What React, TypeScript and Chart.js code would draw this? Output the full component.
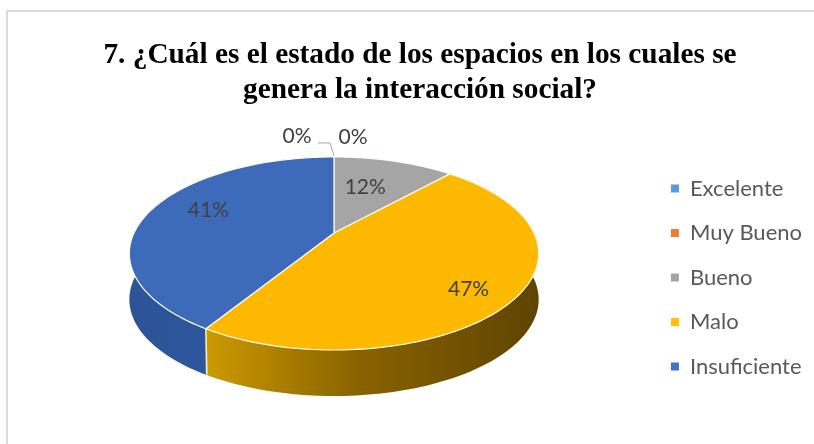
import React, { useEffect, useRef } from "react";
import { Chart, registerables } from "chart.js";

Chart.register(...registerables);

const categories = ["Excelente", "Muy Bueno", "Bueno", "Malo", "Insuficiente"];
const percentages = [0, 0, 11.7, 47.1, 41.2];
const sliceColors = ["#5B9BD5", "#ED7D31", "#A5A5A5", "#FDB900", "#3D6BB9"];
const legendColors = ["#5B9BD5", "#ED7D31", "#A5A5A5", "#FFC000", "#4472C4"];
const titleLines = [
  "7. ¿Cuál es el estado de los espacios en los cuales se",
  "genera la interacción social?",
];

// canvas-space geometry of the tilted disc (canvas sits at 8,12 in the page)
const OX = 8;
const OY = 12;
const CX = 334 - OX;
const CY = 233 - OY;
const BX = 200;
const BY = 92.2;
const K = 0.212;
const DEPTH = 46;

const project = (theta: number, r: number) => {
  const u = r * Math.sin(theta);
  const v = -r * Math.cos(theta);
  const w = 1 + K * v * -1;
  return { x: CX + (BX * u) / w, y: CY + (BY * v) / w };
};

// [radius factor, dx, dy] per slice, applied to the slice's mid angle
const labelPlacement = [
  [1, -37, -21],
  [1, 19, -20],
  [0.63, -9, 2],
  [0.76, 0, 10],
  [0.69, 2, -6],
];

const rimStops: Record<number, [number, string][]> = {
  3: [
    [0, "#CC9A00"],
    [0.45, "#8A6300"],
    [1, "#5F4400"],
  ],
  4: [
    [0, "#2C5496"],
    [1, "#2F5CA8"],
  ],
};

const discPlugin = {
  id: "disc",
  afterLayout(chart: any) {
    const lg = chart.legend;
    lg.left -= 20;
    lg.right -= 20;
    lg.top += 45.5;
    lg.bottom += 45.5;
  },
  beforeDatasetsDraw(chart: any) {
    const ctx = chart.ctx as CanvasRenderingContext2D;
    const arcs = chart.getDatasetMeta(0).data as any[];
    const th = (a: number) => a + Math.PI / 2;

    // side wall
    arcs.forEach((arc, i) => {
      const stops = rimStops[i];
      if (!stops || arc.endAngle - arc.startAngle <= 0) return;
      const steps = 120;
      const pts = [];
      for (let s = 0; s <= steps; s++) {
        pts.push(project(th(arc.startAngle + ((arc.endAngle - arc.startAngle) * s) / steps), 1));
      }
      ctx.save();
      const xs = pts.map((p) => p.x);
      const front = pts.filter((p) => p.y > CY);
      const fx = front.map((p) => p.x);
      const g = ctx.createLinearGradient(Math.min(...fx), 0, Math.max(...xs), 0);
      stops.forEach(([o, c]) => g.addColorStop(o, c));
      ctx.fillStyle = g;
      ctx.beginPath();
      pts.forEach((p, k) => (k ? ctx.lineTo(p.x, p.y) : ctx.moveTo(p.x, p.y)));
      for (let k = pts.length - 1; k >= 0; k--) ctx.lineTo(pts[k].x, pts[k].y + DEPTH);
      ctx.closePath();
      ctx.fill();
      ctx.restore();
    });

    // white seam on the wall between the two front slices
    const seam = project(th(arcs[4].startAngle), 1);
    ctx.strokeStyle = "#F4EFD8";
    ctx.lineWidth = 1.5;
    ctx.beginPath();
    ctx.moveTo(seam.x, seam.y);
    ctx.lineTo(seam.x + 1, seam.y + DEPTH);
    ctx.stroke();

    // top face
    arcs.forEach((arc, i) => {
      if (arc.endAngle - arc.startAngle <= 0) return;
      const steps = 120;
      ctx.beginPath();
      ctx.moveTo(CX, CY);
      for (let s = 0; s <= steps; s++) {
        const p = project(th(arc.startAngle + ((arc.endAngle - arc.startAngle) * s) / steps), 1);
        ctx.lineTo(p.x, p.y);
      }
      ctx.closePath();
      ctx.fillStyle = sliceColors[i];
      ctx.fill();
      ctx.strokeStyle = "#FFFBEF";
      ctx.lineWidth = 1.2;
      ctx.stroke();
    });

    // leader line of the first zero label
    const top = project(th(arcs[0].startAngle), 1);
    ctx.strokeStyle = "#A6A6A6";
    ctx.lineWidth = 1;
    ctx.beginPath();
    ctx.moveTo(top.x - 16, top.y - 14);
    ctx.lineTo(top.x - 4, top.y - 14);
    ctx.lineTo(top.x, top.y - 1);
    ctx.stroke();

    // data labels
    ctx.font = '21px Lato, "Open Sans", sans-serif';
    ctx.fillStyle = "#404040";
    ctx.textAlign = "center";
    ctx.textBaseline = "middle";
    arcs.forEach((arc, i) => {
      const mid = th((arc.startAngle + arc.endAngle) / 2);
      const [r, dx, dy] = labelPlacement[i];
      const p = project(mid, r);
      ctx.fillText(`${Math.round(percentages[i])}%`, p.x + dx, p.y + dy);
    });
    return false;
  },
};

export default function App() {
  const ref = useRef<HTMLCanvasElement>(null);
  useEffect(() => {
    const chart = new Chart(ref.current!, {
      type: "pie",
      data: {
        labels: categories,
        datasets: [{ data: percentages, backgroundColor: legendColors, borderWidth: 0 }],
      },
      plugins: [discPlugin],
      options: {
        animation: false,
        responsive: false,
        plugins: {
          tooltip: { enabled: false },
          title: {
            display: true,
            text: titleLines,
            color: "#000000",
            font: { family: '"Liberation Serif", serif', size: 29.3, weight: "bold", lineHeight: 1.2 },
            padding: { top: 26, bottom: 10 },
          },
          legend: {
            position: "right",
            labels: {
              boxWidth: 8,
              boxHeight: 8,
              padding: 22.5,
              color: "#595959",
              font: { family: 'Lato, "Open Sans", sans-serif', size: 22 },
            },
          },
        },
      },
    } as any);
    return () => chart.destroy();
  }, []);
  return (
    <div style={{ position: "fixed", left: 0, top: 0, width: 814, height: 444, overflow: "hidden", background: "#fff" }}>
      <canvas
        ref={ref}
        width={824}
        height={440}
        style={{ position: "absolute", left: OX, top: OY, outline: "2px solid #D9D9D9" }}
      />
    </div>
  );
}
